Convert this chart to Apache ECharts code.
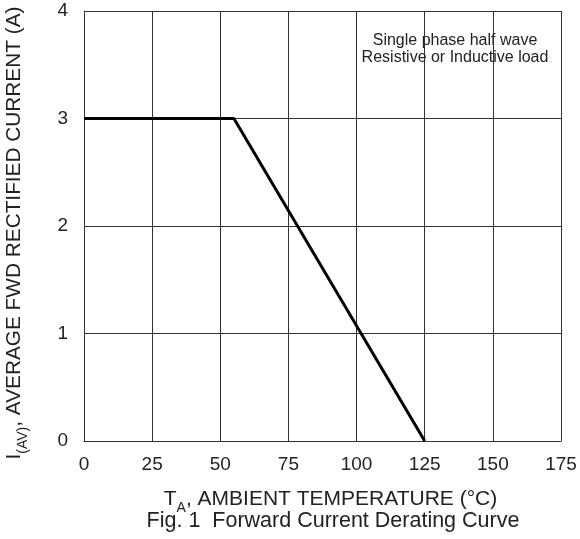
<!DOCTYPE html>
<html><head><meta charset="utf-8">
<script src="https://cdn.jsdelivr.net/npm/echarts@6/dist/echarts.min.js"></script>
<style>html,body{margin:0;padding:0;background:#fff}#c{width:580px;height:539px}</style>
</head><body><div id="c"></div>
<script>
var temperature = [0, 55, 125];
var current = [3, 3, 0];
var xTicks = [0, 25, 50, 75, 100, 125, 150, 175];
var yTicks = [0, 1, 2, 3, 4];
var noteLines = ['Single phase half wave', 'Resistive or Inductive load'];
var caption = 'Fig. 1  Forward Current Derating Curve';
var yTitle = ['I', '(AV)', ', AVERAGE FWD RECTIFIED CURRENT (A)'];
var xTitle = ['T', 'A', ', AMBIENT TEMPERATURE (°C)'];

var chart = echarts.init(document.getElementById('c'));
var font = 'Liberation Sans, Arial, sans-serif';
function rich(sz, sub) {
  return {
    m: {fontSize: sz, fill: '#222', color: '#222', fontFamily: font, lineHeight: 26, verticalAlign: 'top'},
    s: {fontSize: sub, fill: '#222', color: '#222', fontFamily: font, lineHeight: 26, verticalAlign: 'bottom'}
  };
}
chart.setOption({
  animation: false,
  grid: {left: 84, right: 19, top: 11, bottom: 98, outerBoundsMode: 'none', containLabel: false},
  xAxis: {
    type: 'value', min: 0, max: 175, interval: 25,
    axisLine: {show: true, lineStyle: {color: '#333', width: 1}},
    axisTick: {show: false},
    splitLine: {show: true, lineStyle: {color: '#333', width: 1}},
    axisLabel: {fontSize: 19, color: '#222', fontFamily: font, margin: 14},
    name: '{m|' + xTitle[0] + '}{s|' + xTitle[1] + '}{m|' + xTitle[2] + '}',
    nameLocation: 'middle', nameGap: 48,
    nameTextStyle: {rich: rich(21, 14), padding: [0, 0, 0, 16]}
  },
  yAxis: {
    type: 'value', min: 0, max: 4, interval: 1,
    axisLine: {show: true, lineStyle: {color: '#333', width: 1}},
    axisTick: {show: false},
    splitLine: {show: true, lineStyle: {color: '#333', width: 1}},
    axisLabel: {fontSize: 19, color: '#222', fontFamily: font, margin: 16}
  },
  graphic: [
    {type: 'text', x: 17, y: 233, rotation: Math.PI / 2,
     style: {text: '{m|' + yTitle[0] + '}{s|' + yTitle[1] + '}{m|' + yTitle[2] + '}',
             rich: rich(20.8, 14), align: 'center', verticalAlign: 'middle'}},
    {type: 'text', x: 333, y: 510,
     style: {text: caption, fontSize: 21.5, fill: '#222', fontFamily: font, align: 'center'}},
    {type: 'text', x: 455, y: 32,
     style: {text: noteLines.join('\n'), fontSize: 16, lineHeight: 17, fill: '#222', fontFamily: font, align: 'center'}}
  ],
  series: [{
    type: 'line', data: temperature.map(function (t, i) { return [t, current[i]]; }),
    symbol: 'none', lineStyle: {color: '#000', width: 3}
  }]
});
</script></body></html>
